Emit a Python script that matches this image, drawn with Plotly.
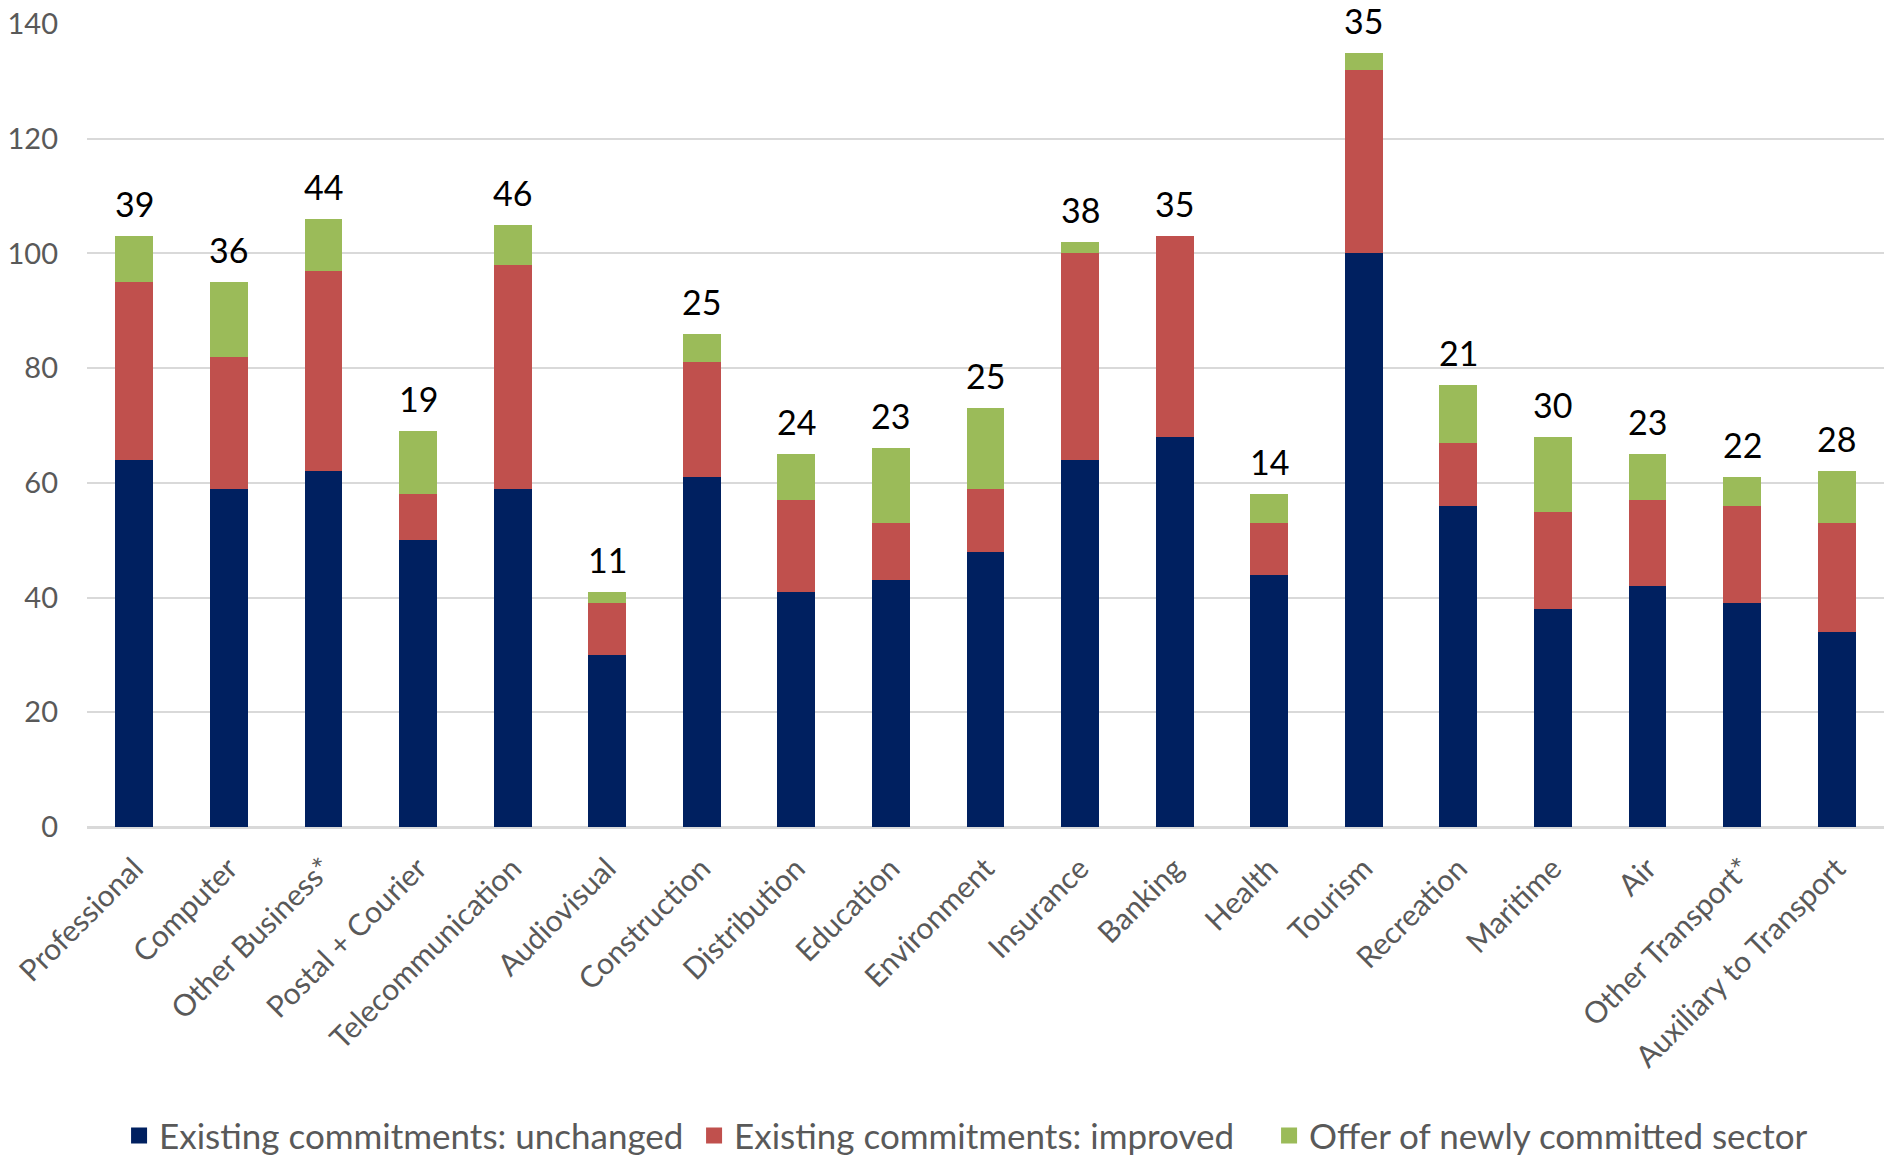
import plotly.graph_objects as go

categories = ["Professional", "Computer", "Other Business*", "Postal + Courier",
              "Telecommunication", "Audiovisual", "Construction", "Distribution",
              "Education", "Environment", "Insurance", "Banking", "Health",
              "Tourism", "Recreation", "Maritime", "Air", "Other Transport*",
              "Auxiliary to Transport"]
unchanged = [64, 59, 62, 50, 59, 30, 61, 41, 43, 48, 64, 68, 44, 100, 56, 38, 42, 39, 34]
improved = [31, 23, 35, 8, 39, 9, 20, 16, 10, 11, 36, 35, 9, 32, 11, 17, 15, 17, 19]
newly = [8, 13, 9, 11, 7, 2, 5, 8, 13, 14, 2, 0, 5, 3, 10, 13, 8, 5, 9]
top_labels = [39, 36, 44, 19, 46, 11, 25, 24, 23, 25, 38, 35, 14, 35, 21, 30, 23, 22, 28]

series_names = ["Existing commitments: unchanged", "Existing commitments: improved",
                "Offer of newly committed sector"]
colors = ["#002060", "#C0504D", "#9BBB59"]

FONT = "Lato"
fig = go.Figure()
for name, vals, col in zip(series_names, [unchanged, improved, newly], colors):
    fig.add_trace(go.Bar(x=categories, y=vals, name=name, marker_color=col,
                         marker_line_width=0, showlegend=False))
for name, col in zip(series_names, colors):
    # legend proxy with a larger square symbol
    fig.add_trace(go.Scatter(x=[None], y=[None], mode="markers", name=name,
                             marker=dict(symbol="square", size=16, color=col),
                             showlegend=True))

totals = [a + b + c for a, b, c in zip(unchanged, improved, newly)]
for cat, tot, lab in zip(categories, totals, top_labels):
    fig.add_annotation(x=cat, y=tot, text=str(lab), showarrow=False,
                       yanchor="bottom", yshift=10,
                       font=dict(family=FONT, size=34, color="#000000"))

fig.update_layout(
    width=1884, height=1159,
    barmode="stack", bargap=0.6,
    plot_bgcolor="white", paper_bgcolor="white",
    margin=dict(l=87, r=0, t=24, b=332),
    font=dict(family=FONT, color="#595959"),
    legend=dict(orientation="h", xref="container", yref="container",
                x=0.0632, xanchor="left", y=0.02, yanchor="middle",
                traceorder="normal", entrywidth=530, entrywidthmode="pixels",
                font=dict(family=FONT, size=35, color="#595959"),
                itemwidth=30, tracegroupgap=0),
)
fig.update_xaxes(tickangle=-45, tickfont=dict(family=FONT, size=30, color="#595959"),
                 showgrid=False, showline=True, linecolor="#D9D9D9", linewidth=2,
                 ticks="", ticklabelstandoff=10)
fig.update_yaxes(range=[0, 140], dtick=20, showgrid=True, gridcolor="#D9D9D9",
                 gridwidth=2, zeroline=True, zerolinecolor="#D9D9D9", zerolinewidth=2,
                 tickfont=dict(family=FONT, size=29, color="#595959"),
                 ticks="", ticklabelstandoff=28, showline=False)

fig.write_html("out.html", config={"displayModeBar": False},
               post_script="document.body.style.margin='0px';document.body.style.overflow='hidden';")
